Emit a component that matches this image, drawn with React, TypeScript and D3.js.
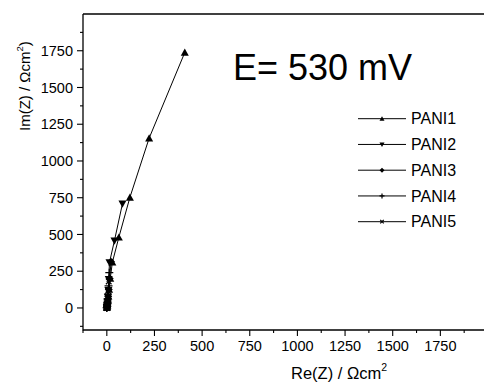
import React from "react";
import * as d3 from "d3";

const seriesNames = ["PANI1", "PANI2", "PANI3", "PANI4", "PANI5"];
const markerTypes = ["triUp", "triDown", "diamond", "plus", "cross"];

const pani1Re = [0, 1, 2, 3, 4, 6, 8, 12, 18, 29, 63, 121, 222, 409];
const pani1Im = [2, 5, 10, 18, 30, 50, 80, 125, 200, 310, 480, 752, 1155, 1738];
const pani2Re = [0, 1, 1, 2, 3, 4, 6, 8, 10, 14, 40, 82];
const pani2Im = [1, 4, 9, 16, 27, 45, 72, 120, 195, 310, 458, 709];
const pani3Re = [0, 1, 2, 2, 3, 5, 7, 10, 15, 22];
const pani3Im = [1, 4, 9, 16, 28, 48, 78, 125, 200, 315];
const pani4Re = [0, 0, 1, 1, 2, 3, 4, 6, 9, 13];
const pani4Im = [0, 3, 7, 13, 22, 38, 60, 95, 150, 240];
const pani5Re = [0, 0, 1, 1, 2, 3, 4, 5, 7, 10];
const pani5Im = [0, 2, 5, 10, 18, 30, 48, 75, 115, 180];

const xTicks = [0, 250, 500, 750, 1000, 1250, 1500, 1750];
const yTicks = [0, 250, 500, 750, 1000, 1250, 1500, 1750];
const xMinor = [-125, 125, 375, 625, 875, 1125, 1375, 1625, 1875];
const yMinor = [-125, 125, 375, 625, 875, 1125, 1375, 1625, 1875];

const allRe = [pani1Re, pani2Re, pani3Re, pani4Re, pani5Re];
const allIm = [pani1Im, pani2Im, pani3Im, pani4Im, pani5Im];

const FONT = "'Liberation Sans', Arial, sans-serif";

function Marker({ type, x, y, s }: { type: string; x: number; y: number; s: number }) {
  const h = s / 2;
  if (type === "triUp")
    return <path d={`M${x},${y - h}L${x + h},${y + h * 0.8}L${x - h},${y + h * 0.8}Z`} fill="#000" />;
  if (type === "triDown")
    return <path d={`M${x},${y + h}L${x + h},${y - h * 0.8}L${x - h},${y - h * 0.8}Z`} fill="#000" />;
  if (type === "diamond")
    return <path d={`M${x},${y - h}L${x + h},${y}L${x},${y + h}L${x - h},${y}Z`} fill="#000" />;
  if (type === "plus")
    return <path d={`M${x - h},${y}L${x + h},${y}M${x},${y - h}L${x},${y + h}`} stroke="#000" strokeWidth={1.2} />;
  return <path d={`M${x - h * 0.7},${y - h * 0.7}L${x + h * 0.7},${y + h * 0.7}M${x + h * 0.7},${y - h * 0.7}L${x - h * 0.7},${y + h * 0.7}`} stroke="#000" strokeWidth={1.2} />;
}

export default function App() {
  const W = 484, H = 383;
  const x = d3.scaleLinear().domain([-125, 2000]).range([83, 488]);
  const y = d3.scaleLinear().domain([-150, 2000]).range([330, 14]);
  const line = d3.line<[number, number]>().x(d => x(d[0])).y(d => y(d[1]));
  const x0 = x(-125), y0 = y(-150), yTop = y(2000);

  const legendY = d3.scaleLinear().domain([0, 4]).range([118.7, 221.7]);

  return (
    <svg width={W} height={H} style={{ position: "absolute", left: 0, top: 0, background: "#fff" }} fontFamily={FONT}>
      <rect width={W} height={H} fill="#fff" />
      {/* frame */}
      <line x1={x0} x2={W} y1={yTop} y2={yTop} stroke="#000" strokeWidth={1.3} />
      <line x1={x0} x2={x0} y1={yTop} y2={y0 + 0.5} stroke="#000" strokeWidth={1.3} />
      <line x1={x0} x2={W} y1={y0} y2={y0} stroke="#000" strokeWidth={1.3} />
      {/* y ticks */}
      {yTicks.map(t => (
        <g key={"y" + t}>
          <line x1={x0 - 6} x2={x0} y1={y(t)} y2={y(t)} stroke="#000" strokeWidth={1.1} />
          <text x={x0 - 10} y={y(t)} dy="0.35em" textAnchor="end" fontSize={14.5}>{t}</text>
        </g>
      ))}
      {yMinor.map(t => (
        <line key={"ym" + t} x1={x0 - 3} x2={x0} y1={y(t)} y2={y(t)} stroke="#000" strokeWidth={1.1} />
      ))}
      {/* x ticks */}
      {xTicks.map(t => (
        <g key={"x" + t}>
          <line x1={x(t)} x2={x(t)} y1={y0} y2={y0 + 6} stroke="#000" strokeWidth={1.1} />
          <text x={x(t)} y={y0 + 21} textAnchor="middle" fontSize={14.5}>{t}</text>
        </g>
      ))}
      {xMinor.map(t => (
        <line key={"xm" + t} x1={x(t)} x2={x(t)} y1={y0} y2={y0 + 3} stroke="#000" strokeWidth={1.1} />
      ))}
      {/* axis labels */}
      <text x={291} y={378.5} fontSize={16.5}>
        Re(Z) / Ωcm<tspan dy={-8} fontSize={10.5}>2</tspan>
      </text>
      <text transform="translate(30,131) rotate(-90)" fontSize={15}>
        Im(Z) / Ωcm<tspan dy={-7} fontSize={9.5}>2</tspan><tspan dy={7}>)</tspan>
      </text>
      {/* series */}
      {allRe.map((re, i) => {
        const pts: [number, number][] = re.map((r, j) => [r, allIm[i][j]]);
        return (
          <g key={"s" + i}>
            <path d={line(pts) || ""} fill="none" stroke="#000" strokeWidth={1} />
            {pts.map((p, j) => (
              <Marker key={j} type={markerTypes[i]} x={x(p[0])} y={y(p[1])} s={8} />
            ))}
          </g>
        );
      })}
      {/* title */}
      <text x={233} y={80} fontSize={36}>E= 530 mV</text>
      {/* legend */}
      {seriesNames.map((n, i) => (
        <g key={n}>
          <line x1={358} x2={406} y1={legendY(i)} y2={legendY(i)} stroke="#000" strokeWidth={1} />
          <Marker type={markerTypes[i]} x={382} y={legendY(i)} s={5} />
          <text x={411} y={legendY(i)} dy="0.36em" fontSize={16}>{n}</text>
        </g>
      ))}
    </svg>
  );
}
